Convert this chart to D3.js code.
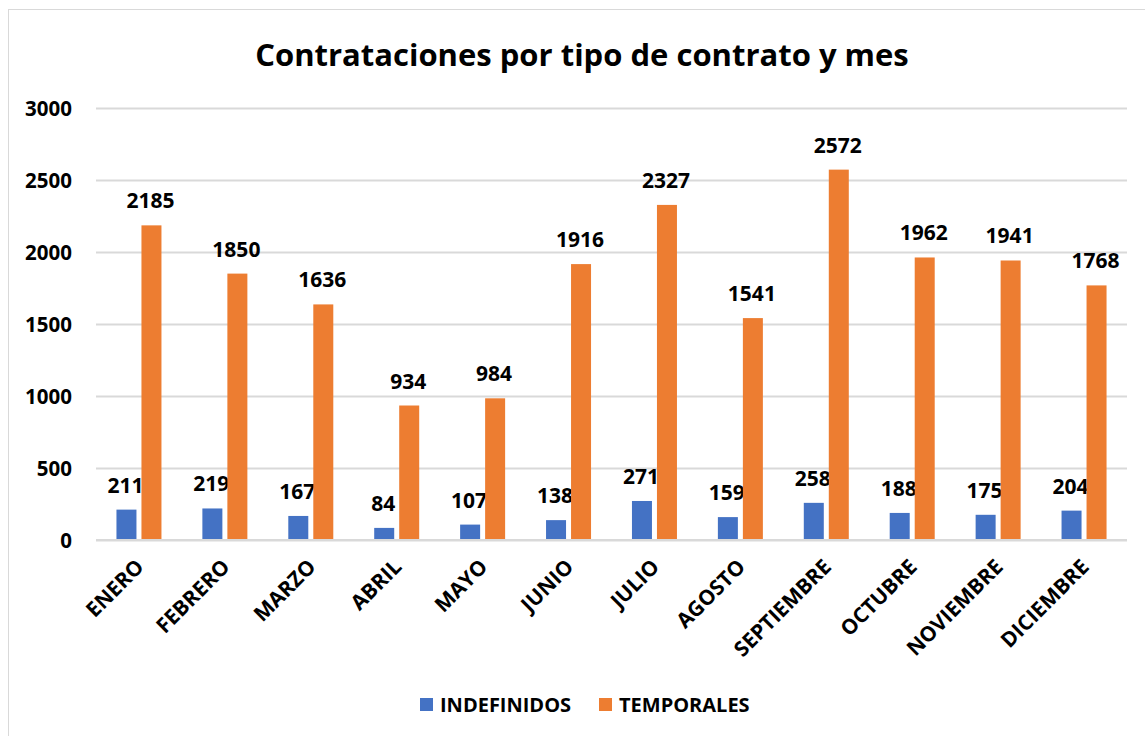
<!DOCTYPE html>
<html>
<head>
<meta charset="utf-8">
<script src="https://cdn.jsdelivr.net/npm/d3@7"></script>
<style>
  body { margin: 0; background: #fff; }
  text { font-family: "Open Sans", sans-serif; font-weight: bold; fill: #000; }
</style>
</head>
<body>
<svg id="chart"></svg>
<script>
const months = ["ENERO", "FEBRERO", "MARZO", "ABRIL", "MAYO", "JUNIO", "JULIO",
    "AGOSTO", "SEPTIEMBRE", "OCTUBRE", "NOVIEMBRE", "DICIEMBRE"];
const indefinidos = [211, 219, 167, 84, 107, 138, 271, 159, 258, 188, 175, 204];
const temporales = [2185, 1850, 1636, 934, 984, 1916, 2327, 1541, 2572, 1962, 1941, 1768];
const seriesNames = ["INDEFINIDOS", "TEMPORALES"];
const seriesColors = ["#4472C4", "#ED7D31"];
const yTicks = [0, 500, 1000, 1500, 2000, 2500, 3000];

const width = 1145, height = 736;
const margin = {top: 108, right: 18, bottom: 196, left: 96};
const innerW = width - margin.left - margin.right;
const innerH = height - margin.top - margin.bottom;

const svg = d3.select("#chart").attr("width", width).attr("height", height);

// chart frame
svg.append("rect")
    .attr("x", 8.5).attr("y", 9.5)
    .attr("width", 1150).attr("height", 740)
    .attr("fill", "none").attr("stroke", "#d9d9d9");

svg.append("text")
    .attr("x", 582).attr("y", 66)
    .attr("text-anchor", "middle")
    .style("font-size", "31px")
    .text("Contrataciones por tipo de contrato y mes");

const x = d3.scaleBand().domain(months).range([0, innerW]);
const y = d3.scaleLinear().domain([0, 3000]).range([innerH, 0]);
const barW = 20, gap = 5;

const g = svg.append("g").attr("transform", `translate(${margin.left},${margin.top})`);

// gridlines
g.append("g")
    .call(d3.axisLeft(y).tickValues(yTicks).tickSize(-innerW).tickFormat(""))
    .call(a => a.select(".domain").remove())
    .call(a => a.selectAll("line").attr("stroke", "#d9d9d9").attr("stroke-width", 2));

// y labels
g.append("g")
    .call(d3.axisLeft(y).tickValues(yTicks).tickSize(0).tickPadding(24).tickFormat(d3.format("d")))
    .call(a => a.select(".domain").remove())
    .call(a => a.selectAll("text").style("font-size", "20.5px").attr("dy", "0.35em"));

const series = [indefinidos, temporales];
series.forEach((vals, si) => {
    const off = si === 0 ? -gap / 2 - barW : gap / 2;
    const grp = g.append("g");
    grp.selectAll("rect")
        .data(months)
        .join("rect")
        .attr("x", (d, i) => x(d) + x.bandwidth() / 2 + off)
        .attr("y", (d, i) => y(vals[i]))
        .attr("width", barW)
        .attr("height", (d, i) => innerH - y(vals[i]))
        .attr("fill", seriesColors[si]);
    grp.selectAll("text")
        .data(months)
        .join("text")
        .attr("x", (d, i) => x(d) + x.bandwidth() / 2 + off + barW / 2 - 1)
        .attr("y", (d, i) => y(vals[i]) - 17)
        .attr("text-anchor", "middle")
        .style("font-size", "21px")
        .text((d, i) => vals[i]);
});

// x axis baseline
g.append("line")
    .attr("x1", 0).attr("x2", innerW)
    .attr("y1", innerH).attr("y2", innerH)
    .attr("stroke", "#d9d9d9").attr("stroke-width", 2);

// x labels
g.append("g").selectAll("text")
    .data(months)
    .join("text")
    .attr("transform", d => `translate(${x(d) + x.bandwidth() / 2 + 1},${innerH + 23}) rotate(-45)`)
    .attr("text-anchor", "end")
    .attr("dy", "0.35em")
    .style("font-size", "21px")
    .text(d => d);

// legend
const legend = svg.append("g").attr("transform", "translate(420,698)");
const legX = [0, 179];
seriesNames.forEach((name, i) => {
    legend.append("rect")
        .attr("x", legX[i]).attr("y", 0)
        .attr("width", 13).attr("height", 13)
        .attr("fill", seriesColors[i]);
    legend.append("text")
        .attr("x", legX[i] + 20).attr("y", 14)
        .style("font-size", "20px")
        .text(name);
});
</script>
</body>
</html>
